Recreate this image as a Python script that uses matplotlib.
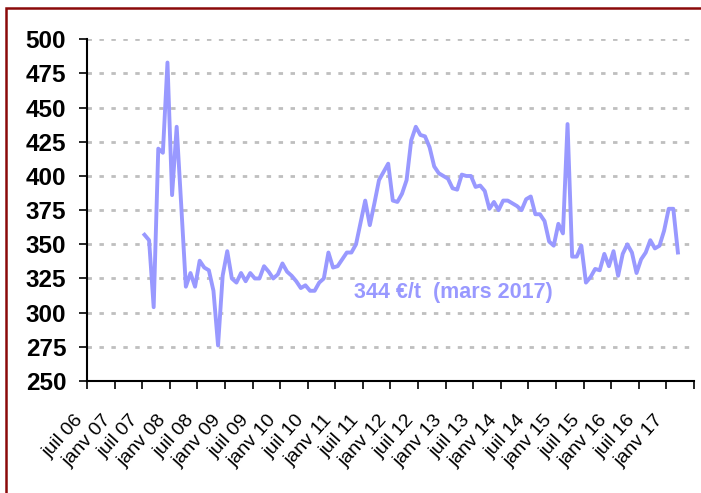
import matplotlib
matplotlib.use("Agg")
import matplotlib.pyplot as plt
from matplotlib.patches import Rectangle

plt.rcParams["font.family"] = ["Liberation Sans", "DejaVu Sans"]

# monthly price (EUR/t), first value = juil 07 (month 12 counted from juil 06)
start_month = 12
prices = [
    357, 353, 304, 420, 417, 483, 386, 436, 378, 319,
    329, 319, 338, 333, 331, 316, 276, 327, 345, 325,
    322, 329, 323, 329, 325, 325, 334, 330, 325, 328,
    336, 330, 327, 323, 318, 320, 316, 316, 322, 325,
    344, 333, 334, 339, 344, 344, 350, 366, 382, 364,
    380, 397, 403, 409, 382, 381, 387, 397, 426, 436,
    430, 429, 421, 407, 402, 400, 398, 391, 390, 401,
    400, 400, 392, 393, 389, 376, 381, 375, 382, 382,
    380, 378, 375, 383, 385, 372, 372, 367, 352, 349,
    365, 358, 438, 341, 341, 349, 322, 326, 332, 331,
    343, 334, 345, 327, 343, 350, 344, 329, 339, 344,
    353, 347, 349, 360, 376, 376, 344,
]

tick_labels = [
    "juil 06", "janv 07", "juil 07", "janv 08", "juil 08", "janv 09",
    "juil 09", "janv 10", "juil 10", "janv 11", "juil 11", "janv 12",
    "juil 12", "janv 13", "juil 13", "janv 14", "juil 14", "janv 15",
    "juil 15", "janv 16", "juil 16", "janv 17", "",
]
y_ticks = [250, 275, 300, 325, 350, 375, 400, 425, 450, 475, 500]
note = "344 €/t  (mars 2017)"

line_color = "#9999FF"

fig = plt.figure(figsize=(7.01, 4.93), dpi=100)
ax = fig.add_axes([87 / 701, 1 - 381 / 493, (694 - 87) / 701, (381 - 39.3) / 493])

# dark red frame around the chart area
fig.patches.append(Rectangle((6 / 701, -0.1), 1.2, 1 - 8 / 493 + 0.1,
                             transform=fig.transFigure, fill=False,
                             edgecolor="#8B0A0A", linewidth=1.8, zorder=0))

xs = [start_month + i + 0.5 for i in range(len(prices))]
ax.plot(xs, prices, color=line_color, linewidth=2.8, solid_joinstyle="round",
        zorder=3)

ax.set_xlim(0, 132)
ax.set_ylim(250, 500)
ax.set_yticks(y_ticks)
ax.set_yticklabels([str(v) for v in y_ticks], fontsize=17.5, fontweight="bold")
ax.set_xticks(range(0, 133, 6))
ax.set_xticklabels(tick_labels, fontsize=14, rotation=48, ha="right",
                   va="top")

ax.tick_params(axis="y", direction="out", length=6, width=1.2, pad=9)
ax.tick_params(axis="x", direction="out", length=6, width=1.2, pad=16)

for side in ["top", "right"]:
    ax.spines[side].set_visible(False)
for side in ["left", "bottom"]:
    ax.spines[side].set_linewidth(1.5)
    ax.spines[side].set_color("black")

ax.yaxis.grid(True, color="#BFBFBF", linestyle=(0, (1.6, 2.7)), linewidth=2)
ax.set_axisbelow(True)

ax.text(58, 314.5, note, color=line_color, fontsize=15.5, fontweight="bold",
        ha="left", va="center")

fig.savefig("out.png", dpi=100)
